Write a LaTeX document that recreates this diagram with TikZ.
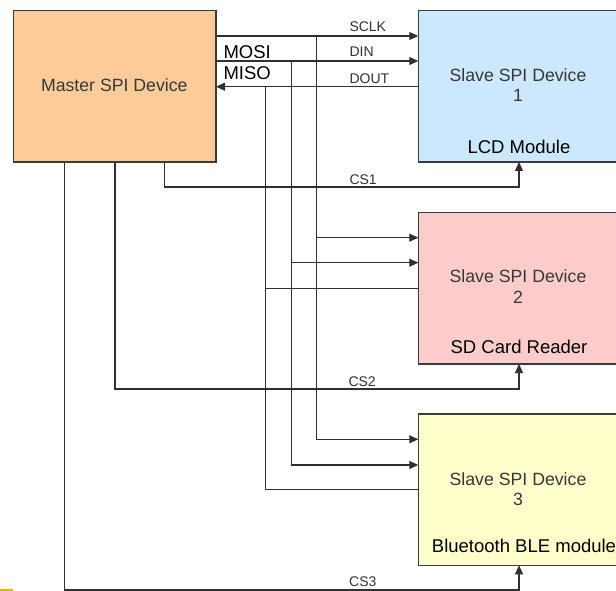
\documentclass[tikz,border=0pt]{standalone}
\usepackage{fontspec}
\setmainfont{Liberation Sans}
\usetikzlibrary{arrows.meta}
\definecolor{wirecol}{HTML}{303030}
\definecolor{boxline}{HTML}{3C3C3C}
\definecolor{graytext}{HTML}{383838}
\definecolor{masterfill}{HTML}{FFCC99}
\definecolor{lcdfill}{HTML}{CCE8FF}
\definecolor{sdfill}{HTML}{FFCCCC}
\definecolor{blefill}{HTML}{FFFFCC}
\definecolor{markyellow}{HTML}{E8B400}
\begin{document}
\begin{tikzpicture}[x=1pt,y=-1pt,
  devbox/.style={draw=boxline, line width=1.2pt, inner sep=0pt, outer sep=0pt},
  wire/.style={draw=wirecol, line width=1.1pt},
  sig/.style={wire, -{Triangle[length=9pt,width=8pt]}},
  devname/.style={inner sep=0pt, anchor=base, text=graytext, font=\fontsize{17.7}{20}\selectfont},
  modname/.style={inner sep=0pt, anchor=base, text=black, font=\fontsize{18.5}{21}\selectfont},
  pinlabel/.style={inner sep=0pt, anchor=base west, text=black, font=\fontsize{18.5}{21}\selectfont},
  netlabel/.style={inner sep=0pt, anchor=base west, text=wirecol, font=\fontsize{14}{16}\selectfont}]
\useasboundingbox (0,0) rectangle (616,591);
\begin{scope}
\clip (0,0) rectangle (616,591);

% devices
\node[devbox, fill=masterfill, minimum width=202.7pt, minimum height=151.3pt] (m) at (114.65,86.35) {};
\node[devbox, fill=lcdfill, minimum width=199.7pt, minimum height=151.3pt] (s1) at (518.15,86.35) {};
\node[devbox, fill=sdfill, minimum width=199.7pt, minimum height=151.7pt] (s2) at (518.15,288.15) {};
\node[devbox, fill=blefill, minimum width=199.7pt, minimum height=151.3pt] (s3) at (518.15,489.65) {};

% device texts
\node[devname] (mt) at (114.3,91.7) {Master SPI Device};
\node[devname] (s1t) at (518,81.7) {Slave SPI Device};
\node[devname] (s1n) at (518,101.7) {1};
\node[modname] (s1m) at (519,153.3) {LCD Module};
\node[devname] (s2t) at (518,282.7) {Slave SPI Device};
\node[devname] (s2n) at (518,303.3) {2};
\node[modname] (s2m) at (519,353.3) {SD Card Reader};
\node[devname] (s3t) at (518,485) {Slave SPI Device};
\node[devname] (s3n) at (518,505) {3};
\node[modname] (s3m) at (524,552.7) {Bluetooth BLE module};

% bus columns and signal rows
\coordinate (xclk) at (316.7,0);
\coordinate (xdin) at (291.7,0);
\coordinate (xdout) at (265.7,0);
\coordinate (xcs1) at (164.7,0);
\coordinate (xcs2) at (115,0);
\coordinate (xcs3) at (64.3,0);
\coordinate (xcsin) at (519,0);
\coordinate (yclk1) at (0,36);
\coordinate (ydin1) at (0,61);
\coordinate (ydout1) at (0,86.7);
\coordinate (ycs1) at (0,187);
\coordinate (yclk2) at (0,237.7);
\coordinate (ydin2) at (0,262.7);
\coordinate (ydout2) at (0,288.3);
\coordinate (ycs2) at (0,389);
\coordinate (yclk3) at (0,439.3);
\coordinate (ydin3) at (0,465);
\coordinate (ydout3) at (0,489.7);
\coordinate (ycs3) at (0,590);

% SCLK
\draw[sig] (m.east |- yclk1) -- (s1.west |- yclk1);
\draw[sig] (xclk |- yclk1) -- (xclk |- yclk3) -- (s3.west |- yclk3);
\draw[sig] (xclk |- yclk2) -- (s2.west |- yclk2);
% DIN / MOSI
\draw[sig] (m.east |- ydin1) -- (s1.west |- ydin1);
\draw[sig] (xdin |- ydin1) -- (xdin |- ydin3) -- (s3.west |- ydin3);
\draw[sig] (xdin |- ydin2) -- (s2.west |- ydin2);
% DOUT / MISO
\draw[sig] (s1.west |- ydout1) -- (m.east |- ydout1);
\draw[wire] (s3.west |- ydout3) -- (xdout |- ydout3) -- (xdout |- ydout1);
\draw[wire] (s2.west |- ydout2) -- (xdout |- ydout2);
% chip selects
\draw[sig] (m.south -| xcs1) -- (xcs1 |- ycs1) -- (xcsin |- ycs1) -- (s1.south -| xcsin);
\draw[sig] (m.south -| xcs2) -- (xcs2 |- ycs2) -- (xcsin |- ycs2) -- (s2.south -| xcsin);
\draw[sig] (m.south -| xcs3) -- (xcs3 |- ycs3) -- (xcsin |- ycs3) -- (s3.south -| xcsin);

% signal labels
\node[netlabel] (lclk) at (349.3,31.7) {SCLK};
\node[netlabel] (ldin) at (349.3,56.7) {DIN};
\node[netlabel] (ldout) at (349.3,83.3) {DOUT};
\node[netlabel] (lcs1) at (349.3,185) {CS1};
\node[netlabel] (lcs2) at (348.3,386.7) {CS2};
\node[netlabel] (lcs3) at (349,586.7) {CS3};
\node[pinlabel] (lmosi) at (223.3,58.3) {MOSI};
\node[pinlabel] (lmiso) at (223.3,80) {MISO};

% small marker in the lower left corner
\fill[markyellow] (0,589.3) rectangle (12.7,591);
\end{scope}
\end{tikzpicture}
\end{document}
